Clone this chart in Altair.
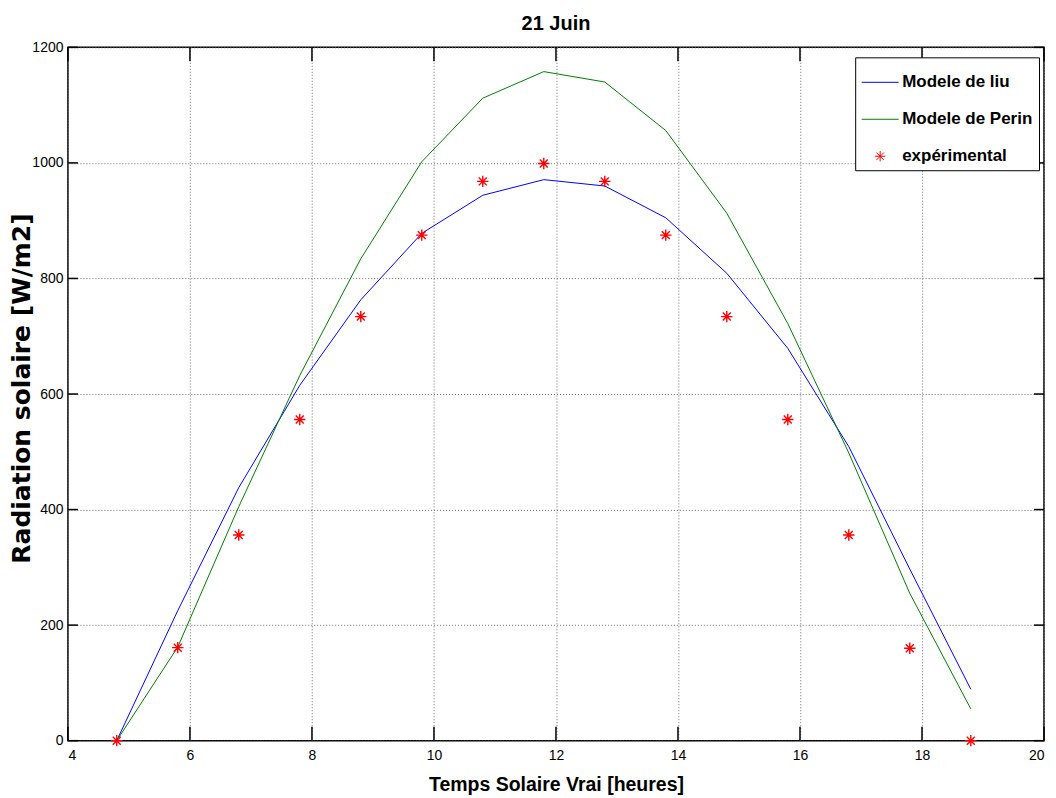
import altair as alt
import pandas as pd

# ---- data ----
hours = [4.8, 5.8, 6.8, 7.8, 8.8, 9.8, 10.8, 11.8, 12.8, 13.8, 14.8, 15.8, 16.8, 17.8, 18.8]
liu = [0, 225, 438, 615, 763, 878, 944, 971, 960, 905, 809, 679, 509, 297, 89]
perin = [0, 162, 405, 632, 834, 1002, 1112, 1158, 1140, 1056, 913, 722, 498, 255, 55]
experimental = [0, 161, 356, 556, 734, 875, 968, 999, 968, 875, 734, 556, 356, 160, 0]

series_names = ["Modele de liu", "Modele de Perin", "expérimental"]
series_colors = ["#0000ff", "#008000", "#ff0000"]
x_ticks = [4, 6, 8, 10, 12, 14, 16, 18, 20]
y_ticks = [0, 200, 400, 600, 800, 1000, 1200]
chart_title = ["21 Juin"]

rows = []
for h, v in zip(hours, liu):
    rows.append({"heure": h, "valeur": v, "serie": series_names[0]})
for h, v in zip(hours, perin):
    rows.append({"heure": h, "valeur": v, "serie": series_names[1]})
for h, v in zip(hours, experimental):
    rows.append({"heure": h, "valeur": v, "serie": series_names[2]})
df = pd.DataFrame(rows)
xt_df = pd.DataFrame({"heure": x_ticks})
yt_df = pd.DataFrame({"valeur": y_ticks})
title_df = pd.DataFrame({"titre": chart_title})

SANS = "Liberation Sans, Arial, sans-serif"
WIDE = "DejaVu Sans, Liberation Sans, sans-serif"

star = "M-1,0L1,0M0,-1L0,1M-0.7,-0.7L0.7,0.7M-0.7,0.7L0.7,-0.7"
legend_star = "M-0.28,0L0.28,0M0,-0.28L0,0.28M-0.2,-0.2L0.2,0.2M-0.2,0.2L0.2,-0.2"

W, H = 977, 694
XT, YT = 14, 10  # inward tick lengths

xscale = alt.Scale(domain=[4, 20], nice=False, zero=False)
yscale = alt.Scale(domain=[0, 1200], nice=False)

legend = alt.Legend(
    title=None, orient="none", legendX=788, legendY=10,
    symbolType={"expr": "datum.value === 'expérimental' ? '" + legend_star + "' : 'stroke'"},
    symbolSize=1369, symbolStrokeWidth=1,
    labelFont=SANS, labelFontSize=17, labelFontWeight="bold", labelColor="black",
    labelOffset=3, rowPadding=10, padding=6,
    strokeColor="black", fillColor="white", cornerRadius=0,
)
color = alt.Color("serie:N", scale=alt.Scale(domain=series_names, range=series_colors), legend=legend)

x_enc = alt.X("heure:Q", scale=xscale, axis=alt.Axis(
    values=x_ticks, format="d", title="Temps Solaire Vrai [heures]",
    titleFont=SANS, titleFontSize=19.5, titleFontWeight="bold", titleColor="black",
    titleBaseline="alphabetic", titleY=50,
    grid=True, domain=False, ticks=False,
    labelFont=SANS, labelFontSize=14, labelColor="black", labelPadding=8,
))
y_enc = alt.Y("valeur:Q", scale=yscale, axis=alt.Axis(
    values=y_ticks, format="d", title="Radiation solaire [W/m2]",
    titleFont=WIDE, titleFontSize=25, titleFontWeight="bold", titleColor="black",
    titleBaseline="alphabetic", titleX=-38, titleY=341,
    grid=True, domain=False, ticks=False,
    labelFont=SANS, labelFontSize=14, labelColor="black", labelPadding=5,
))

base = alt.Chart(df)
lines = base.transform_filter(
    alt.FieldOneOfPredicate(field="serie", oneOf=series_names[:2])
).mark_line(strokeWidth=1).encode(x=x_enc, y=y_enc, color=color)

points = base.transform_filter(
    alt.FieldEqualPredicate(field="serie", equal=series_names[2])
).mark_point(shape=star, size=130, filled=False, strokeWidth=1.4, opacity=1).encode(
    x=x_enc, y=y_enc, color=color)

tick_x = alt.Chart(xt_df).mark_tick(orient="vertical", size=XT, thickness=1.5, color="black", opacity=1)
tick_y = alt.Chart(yt_df).mark_tick(orient="horizontal", size=YT, thickness=1.5, color="black", opacity=1)
tick_bottom = tick_x.encode(x=x_enc, y=alt.value(H - XT / 2))
tick_top = tick_x.encode(x=x_enc, y=alt.value(XT / 2))
tick_left = tick_y.encode(y=y_enc, x=alt.value(YT / 2))
tick_right = tick_y.encode(y=y_enc, x=alt.value(W - YT / 2))

title = alt.Chart(title_df).mark_text(
    font=SANS, fontSize=20, fontWeight="bold", color="black",
    align="center", baseline="alphabetic",
).encode(x=alt.value(W / 2), y=alt.value(-17), text="titre:N")

chart = alt.layer(tick_bottom, tick_top, tick_left, tick_right, lines, points, title).properties(
    width=W, height=H,
    autosize=alt.AutoSizeParams(type="none"),
    padding={"left": 60, "top": 39, "right": 4, "bottom": 56},
).configure_view(stroke="black", strokeWidth=1.5).configure_axis(
    gridColor="#707070", gridDash=[1, 2], gridWidth=1, gridOpacity=1
)

chart.save("out.html", embed_options={"renderer": "svg", "actions": False})
